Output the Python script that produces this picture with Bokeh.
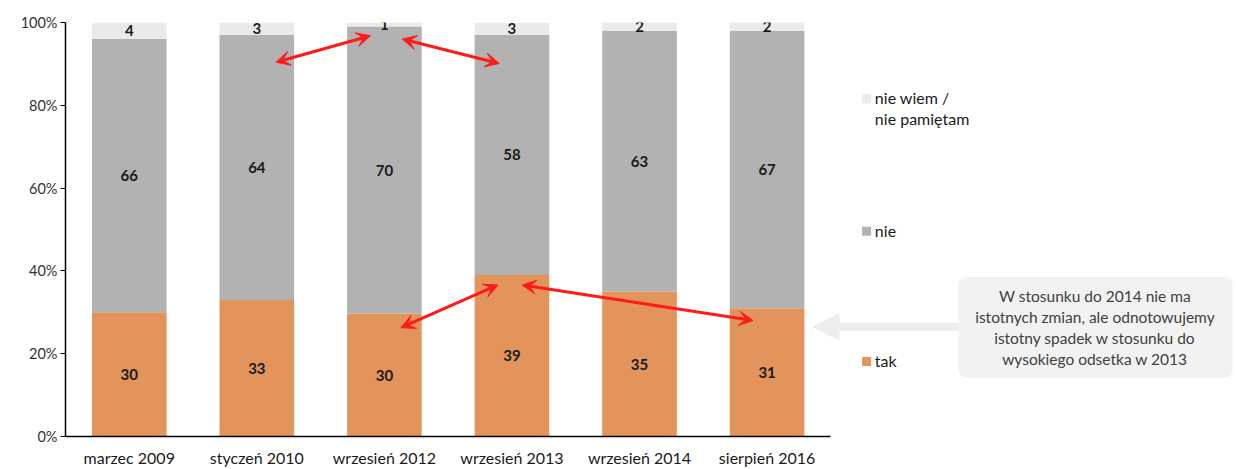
from bokeh.plotting import figure
from bokeh.models import (Range1d, FixedTicker, Arrow, VeeHead, NormalHead, BoxAnnotation,
                          ColumnDataSource, Label)
from bokeh.core.properties import value
from bokeh.embed import file_html
from bokeh.resources import INLINE

categories = ["marzec 2009", "styczeń 2010", "wrzesień 2012", "wrzesień 2013", "wrzesień 2014", "sierpień 2016"]
tak = [30, 33, 30, 39, 35, 31]
nie = [66, 64, 70, 58, 63, 67]
nie_wiem = [4, 3, 1, 3, 2, 2]
y_ticks = [0, 0.2, 0.4, 0.6, 0.8, 1.0]
y_tick_labels = ["0%", "20%", "40%", "60%", "80%", "100%"]
legend_lines = ["nie wiem /", "nie pamiętam", "nie", "tak"]
note_lines = ["W stosunku do 2014 nie ma", "istotnych zmian, ale odnotowujemy",
              "istotny spadek w stosunku do", "wysokiego odsetka w 2013"]
# red comparison arrows: (x_start, y_start, x_end, y_end) in axis units
red_arrows = [(1.65, 0.904, 2.39, 0.968), (2.64, 0.960, 3.40, 0.901),
              (2.63, 0.263, 3.39, 0.366), (3.58, 0.366, 5.39, 0.280)]

FONT = "Lato"
C_TAK, C_NIE, C_NW = "#E2945A", "#B2B2B2", "#EAEAEA"

n = len(categories)
xs = [i + 0.5 for i in range(n)]
tot = [a + b + c for a, b, c in zip(tak, nie, nie_wiem)]
t_f = [a / s for a, s in zip(tak, tot)]
n_f = [b / s for b, s in zip(nie, tot)]
w_f = [c / s for c, s in zip(nie_wiem, tot)]
b1 = t_f
b2 = [a + b for a, b in zip(t_f, n_f)]
b3 = [a + b + c for a, b, c in zip(t_f, n_f, w_f)]

p = figure(width=1236, height=469, output_backend="svg", toolbar_location=None,
           x_range=Range1d(0, 9.18), y_range=Range1d(0, 1),
           min_border_left=65, min_border_right=0, min_border_top=22, min_border_bottom=32)
p.outline_line_color = None
p.grid.visible = False
p.background_fill_color = "white"
p.border_fill_color = "white"

src = ColumnDataSource(dict(x=xs, b1=b1, b2=b2, b3=b3,
                            m1=[v / 2 for v in b1],
                            m2=[(a + b) / 2 for a, b in zip(b1, b2)],
                            m3=[(a + b) / 2 for a, b in zip(b2, b3)],
                            l1=[str(v) for v in tak], l2=[str(v) for v in nie],
                            l3=[str(v) for v in nie_wiem]))
W = 0.585
p.vbar(x="x", bottom=0, top="b1", width=W, color=C_TAK, line_color=None, source=src)
p.vbar(x="x", bottom="b1", top="b2", width=W, color=C_NIE, line_color=None, source=src)
p.vbar(x="x", bottom="b2", top="b3", width=W, color=C_NW, line_color=None, source=src)
for ycol, lcol in (("m1", "l1"), ("m2", "l2"), ("m3", "l3")):
    p.text(x="x", y=ycol, text=lcol, source=src, text_align="center", text_baseline="middle",
           text_font=value(FONT), text_font_style="bold", text_font_size="15px", text_color="#1a1a1a")

# axes
p.yaxis.ticker = FixedTicker(ticks=y_ticks)
p.yaxis.major_label_overrides = {t: l for t, l in zip(y_ticks, y_tick_labels)}
p.yaxis.minor_tick_line_color = None
p.yaxis.major_tick_in = 0
p.yaxis.major_tick_out = 5
p.yaxis.axis_line_color = "black"
p.yaxis.axis_line_width = 1.5
p.yaxis.major_tick_line_color = "black"
p.yaxis.major_label_text_font = FONT
p.yaxis.major_label_text_font_size = "14.5px"
p.yaxis.major_label_text_color = "#333333"
p.yaxis.major_label_standoff = 3

p.xaxis.ticker = FixedTicker(ticks=xs)
p.xaxis.major_label_overrides = {x: c for x, c in zip(xs, categories)}
p.xaxis.bounds = (-0.04, 6.0)
p.xaxis.minor_tick_line_color = None
p.xaxis.major_tick_line_color = None
p.xaxis.major_tick_in = 0
p.xaxis.major_tick_out = 0
p.xaxis.axis_line_color = "black"
p.xaxis.axis_line_width = 1.5
p.xaxis.major_label_text_font = FONT
p.xaxis.major_label_text_font_size = "16px"
p.xaxis.major_label_text_color = "#1a1a1a"
p.xaxis.major_label_standoff = 11

# red arrows
for x0, y0, x1, y1 in red_arrows:
    p.add_layout(Arrow(x_start=x0, y_start=y0, x_end=x1, y_end=y1, line_color="#FF1A1A", line_width=3,
                       start=VeeHead(size=14, fill_color="#FF1A1A", line_color="#FF1A1A", line_width=1),
                       end=VeeHead(size=14, fill_color="#FF1A1A", line_color="#FF1A1A", line_width=1)))

# legend
leg_x = 6.28
leg_sq_y = [0.816, 0.496, 0.181]
leg_txt_y = [0.816, 0.765, 0.496, 0.181]
leg_c = [C_NW, C_NIE, C_TAK]
p.rect(x=[leg_x] * 3, y=leg_sq_y, width=9, height=9, width_units="screen", height_units="screen",
       color=leg_c, line_color=None)
p.text(x=[leg_x + 0.065] * 4, y=[v + 0.002 for v in leg_txt_y], text=legend_lines, text_align="left",
       text_baseline="middle", text_font=value(FONT), text_font_size="16px", text_color="#1a1a1a")

# note box with arrow
p.add_layout(Arrow(x_start=7.0, y_start=0.265, x_end=5.86, y_end=0.265, line_color="#EDEDED", line_width=8,
                   end=NormalHead(size=26, fill_color="#EDEDED", line_color="#EDEDED"), start=None))
p.add_layout(BoxAnnotation(left=7.0, right=9.15, bottom=0.142, top=0.386, fill_color="#F2F2F2",
                           fill_alpha=1, line_color=None, border_radius=8))
note_y = [0.340, 0.288, 0.237, 0.186]
for ny, line in zip(note_y, note_lines):
    p.add_layout(Label(x=8.07, y=ny, text=line, text_align="center", text_baseline="middle",
                       text_font=FONT, text_font_size="15.5px", text_color="#404040"))

open("out.html", "w").write(file_html(p, INLINE))
